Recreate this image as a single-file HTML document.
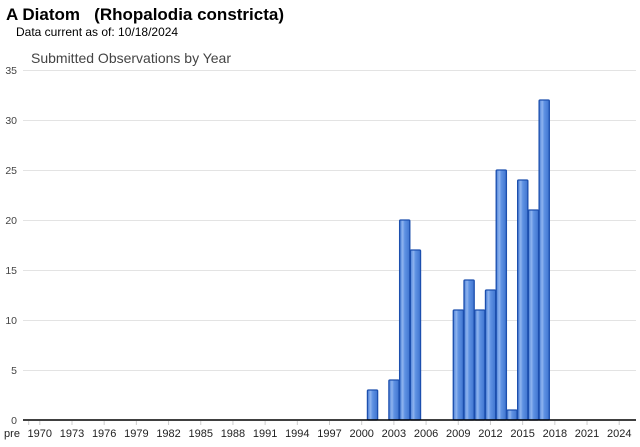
<!DOCTYPE html>
<html><head><style>
body{margin:0;background:#fff;width:640px;height:442px;overflow:hidden}
svg text{font-family:"Liberation Sans",Arial,sans-serif}
</style></head><body>
<svg width="640" height="442" xmlns="http://www.w3.org/2000/svg">
<defs>
<linearGradient id="g" x1="0" x2="1" y1="0" y2="0">
<stop offset="0" stop-color="#4a7fd6"/><stop offset="0.3" stop-color="#8fb4ef"/><stop offset="0.5" stop-color="#5f92e3"/><stop offset="1" stop-color="#3f74cf"/>
</linearGradient>
</defs>
<text x="6" y="20" font-size="17" font-weight="bold" fill="#000">A Diatom&#160;&#160;&#160;(Rhopalodia constricta)</text>
<text x="16" y="36" font-size="12" fill="#000">Data current as of: 10/18/2024</text>
<text x="31" y="63" font-size="14" fill="#444">Submitted Observations by Year</text>
<g stroke="#e3e3e3" stroke-width="1">
<line x1="23" x2="636" y1="70.5" y2="70.5"/><line x1="23" x2="636" y1="120.5" y2="120.5"/><line x1="23" x2="636" y1="170.5" y2="170.5"/><line x1="23" x2="636" y1="220.5" y2="220.5"/><line x1="23" x2="636" y1="270.5" y2="270.5"/><line x1="23" x2="636" y1="320.5" y2="320.5"/><line x1="23" x2="636" y1="370.5" y2="370.5"/>
</g>
<g font-size="10.5" fill="#444" text-anchor="end">
<text x="17" y="74">35</text><text x="17" y="124">30</text><text x="17" y="174">25</text><text x="17" y="224">20</text><text x="17" y="274">15</text><text x="17" y="324">10</text><text x="17" y="374">5</text><text x="17" y="424">0</text>
</g>
<g id="bars" fill="url(#g)" stroke="#1c4fae" stroke-width="1.3"></g>
<line x1="23" x2="636" y1="420" y2="420" stroke="#000" stroke-width="1.5"/>
<g id="ticks" stroke="#ccc"></g>
<g id="labs" font-size="11" fill="#222" text-anchor="middle"></g>
</svg>
<script>
const X=y=>361.7+(y-2000)*10.73;
const d={2001:3,2003:4,2004:20,2005:17,2009:11,2010:14,2011:11,2012:13,2013:25,2014:1,2015:24,2016:21,2017:32};
let b='';for(const k in d){const h=d[k]*10;b+=`<rect x="${X(+k)-5}" y="${420-h}" width="10.2" height="${h}" rx="1"/>`;}
document.getElementById('bars').innerHTML=b;
let t='',l='<text x="12" y="437">pre</text>';
t+=`<line x1="28.7" x2="28.7" y1="421" y2="425"/>`;
for(let y=1970;y<=2024;y+=3){t+=`<line x1="${X(y)}" x2="${X(y)}" y1="421" y2="425"/>`;l+=`<text x="${X(y)}" y="437">${y}</text>`;}
document.getElementById('ticks').innerHTML=t;document.getElementById('labs').innerHTML=l;
</script>
</body></html>
